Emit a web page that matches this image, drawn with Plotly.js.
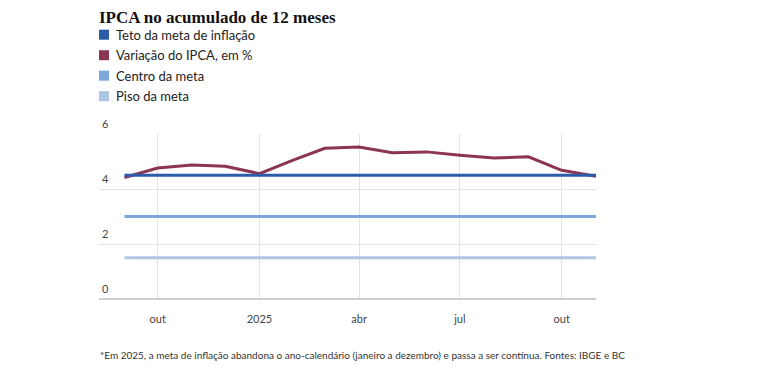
<!DOCTYPE html>
<html>
<head>
<meta charset="utf-8">
<script src="https://cdn.plot.ly/plotly-3.0.1.min.js"></script>
<style>
html,body{margin:0;padding:0;background:#fff;}
#chart{width:768px;height:382px;}
</style>
</head>
<body>
<div id="chart"></div>
<script>
const months = ["2024-09-01","2024-10-01","2024-11-01","2024-12-01","2025-01-01","2025-02-01","2025-03-01","2025-04-01","2025-05-01","2025-06-01","2025-07-01","2025-08-01","2025-09-01","2025-10-01","2025-11-01"];
const ipca = [4.42,4.76,4.87,4.83,4.56,5.06,5.48,5.53,5.32,5.35,5.23,5.13,5.17,4.68,4.46];
const teto = [4.5,4.5,4.5,4.5,4.5,4.5,4.5,4.5,4.5,4.5,4.5,4.5,4.5,4.5,4.5];
const centro = [3,3,3,3,3,3,3,3,3,3,3,3,3,3,3];
const piso = [1.5,1.5,1.5,1.5,1.5,1.5,1.5,1.5,1.5,1.5,1.5,1.5,1.5,1.5,1.5];
const seriesNames = ["Teto da meta de inflação","Variação do IPCA, em %","Centro da meta","Piso da meta"];
const colors = ["#2b5ca8","#8b3553","#7ba7da","#adc6e6"];
const tickVals = ["2024-10-01","2025-01-01","2025-04-01","2025-07-01","2025-10-01"];
const tickText = ["out","2025","abr","jul","out"];
const yTicks = [0,2,4,6];

const W = 768, H = 382;
const M = {l:99, r:172, t:134, b:83};
const PW = W - M.l - M.r, PH = H - M.t - M.b;
const px = x => (x - M.l) / PW;
const py = y => (H - M.b - y) / PH;

const lineData = [piso, centro, ipca, teto];
const lineIdx = [3, 2, 1, 0];
const traces = lineData.map((d,i)=>({
  x: months, y: d, mode:'lines', type:'scatter', name: seriesNames[lineIdx[i]], showlegend:false,
  line:{color:colors[lineIdx[i]], width:3}, hoverinfo:'skip'
}));

const shapes = [];
const annotations = [];
// legend (swatches + labels)
seriesNames.forEach((n,k)=>{
  const cy = 34.7 + k*20.5;
  shapes.push({type:'rect', xref:'paper', yref:'paper', x0:px(99), x1:px(109), y0:py(cy+5), y1:py(cy-5),
    fillcolor:colors[k], line:{width:0}});
  annotations.push({text:n, xref:'paper', yref:'paper', x:px(114), xanchor:'left', y:py(cy), yanchor:'middle',
    showarrow:false, font:{size:13, color:'#222'}});
});
// y tick labels above the gridlines
yTicks.forEach(v=>{
  annotations.push({text:String(v), xref:'paper', yref:'y', x:px(100), xanchor:'left', y:v, yanchor:'bottom',
    yshift:2, showarrow:false, font:{size:11, color:'#444'}});
});
annotations.push({text:'*Em 2025, a meta de inflação abandona o ano-calendário (janeiro a dezembro) e passa a ser contínua. Fontes: IBGE e BC',
  xref:'paper', yref:'paper', x:px(98), xanchor:'left', y:py(355), yanchor:'middle', showarrow:false,
  font:{family:'"Liberation Sans Narrow", Lato, sans-serif', size:10, color:'#333'}});

const layout = {
  width:W, height:H,
  margin:{l:M.l, r:M.r, t:M.t, b:M.b, pad:0},
  paper_bgcolor:'#fff', plot_bgcolor:'#fff',
  font:{family:'Lato, "Open Sans", sans-serif', color:'#333'},
  title:{text:'<b>IPCA no acumulado de 12 meses</b>', xref:'container', x:99/W, xanchor:'left',
    yref:'container', y:1-17/H, yanchor:'middle',
    font:{family:'"Liberation Serif", "DejaVu Serif", serif', size:17, color:'#111'}},
  showlegend:false,
  xaxis:{type:'date', range:['2024-08-09','2025-11-01'], tickvals:tickVals, ticktext:tickText,
    showgrid:true, gridcolor:'#e3e3e3', gridwidth:1, zeroline:false, showline:false,
    ticks:'', tickfont:{size:11, color:'#444'}, ticklabelstandoff:12, fixedrange:true},
  yaxis:{range:[0,6], tickvals:yTicks, showgrid:true, gridcolor:'#e3e3e3', gridwidth:1,
    zeroline:true, zerolinecolor:'#cfcfcf', zerolinewidth:1.5, showline:false, ticks:'',
    showticklabels:false, fixedrange:true},
  shapes:shapes,
  annotations:annotations
};
Plotly.newPlot('chart', traces, layout, {staticPlot:true, displayModeBar:false});
</script>
</body>
</html>
